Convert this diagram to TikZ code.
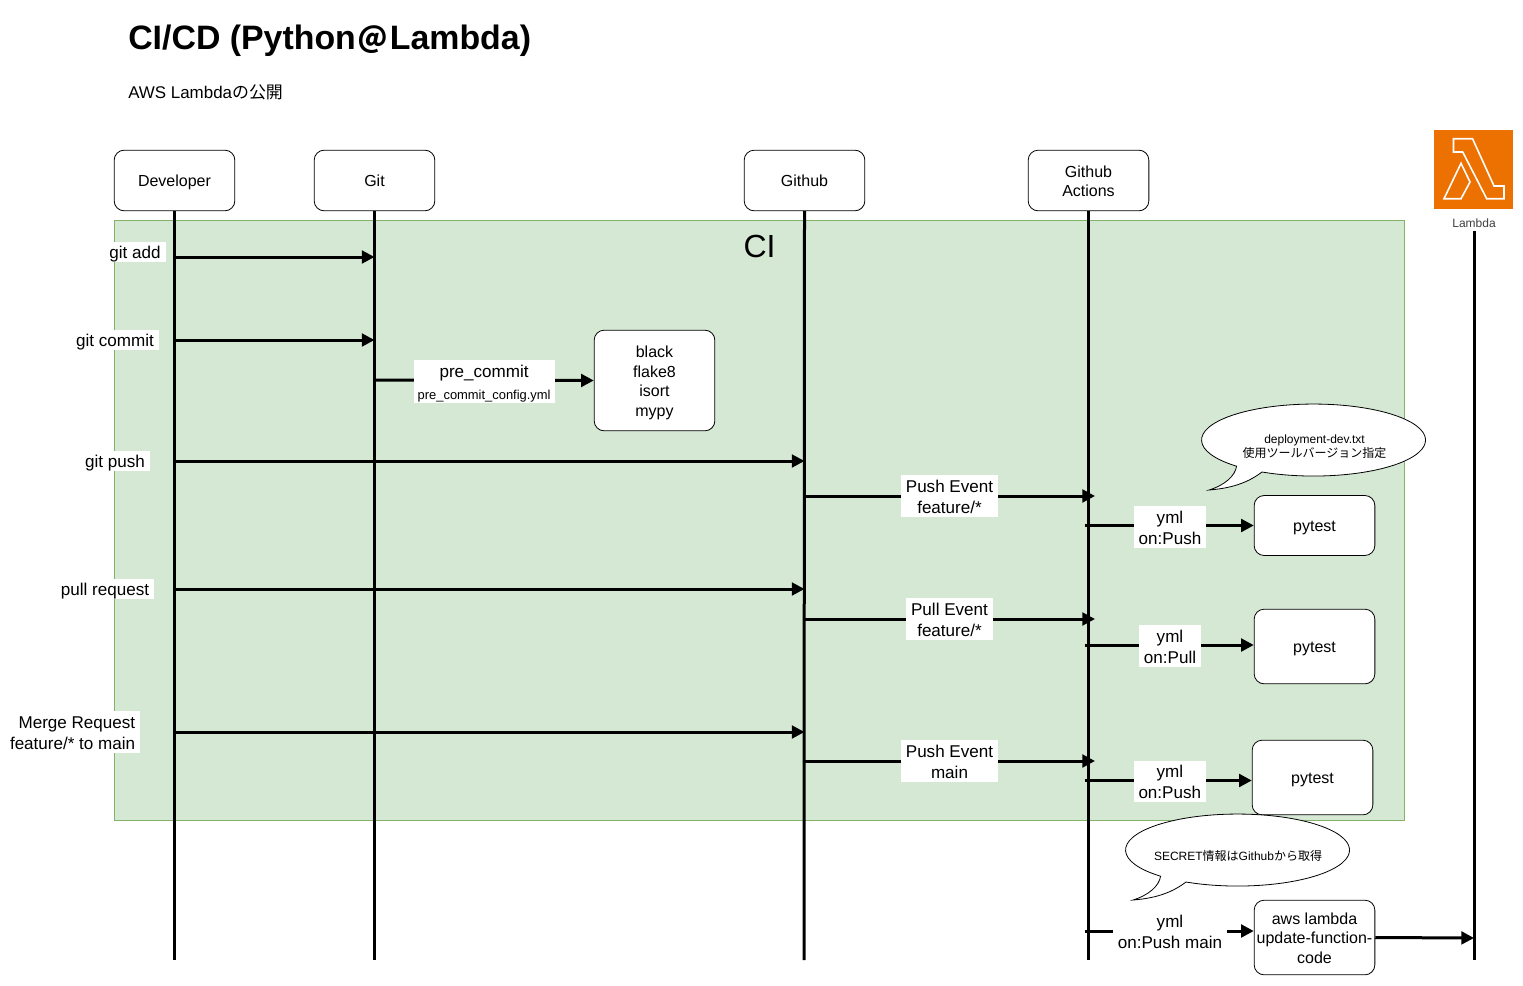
\documentclass[tikz,border=0pt]{standalone}
\usepackage{fontspec}
\setmainfont{Liberation Sans}
\newfontfamily\cjk{Noto Sans CJK JP}
\usetikzlibrary{arrows.meta}
\definecolor{grn}{HTML}{D5E8D4}
\definecolor{grnline}{HTML}{82B366}
\definecolor{lamorange}{HTML}{ED7100}
\newcommand{\topA}{\vrule width0pt height 0.795\baselineskip depth 0pt\relax}
\newcommand{\botA}{\vrule width0pt height 0pt depth 0.205\baselineskip\relax}
\newcommand{\topB}{\vrule width0pt height 0.83\baselineskip depth 0pt\relax}
\newcommand{\botB}{\vrule width0pt height 0pt depth 0.17\baselineskip\relax}
\tikzset{
  single/.style={execute at begin node=\topA,execute at end node=\botA},
  boxm/.style={draw=black,fill=white,rounded corners=7.5pt,line width=0.6pt,minimum width=90.5pt,align=center,inner sep=0pt,font=\fontsize{12}{14.6}\selectfont},
  box/.style={boxm,single},
  life/.style={line width=2.25pt,black},
  msg/.style={line width=2.25pt,-{Triangle[length=9.5pt,width=9.5pt]}},
  lblm/.style={fill=white,align=center,inner xsep=3.75pt,inner ysep=0pt,font=\fontsize{12.8}{15.6}\selectfont},
  lblx/.style={lblm,single},
  btext/.style={align=center,inner sep=0pt,font=\fontsize{9}{11}\selectfont},
  bubble/.style={draw=black,fill=white,line width=0.6pt},
}
\begin{document}
\begin{tikzpicture}[x=0.75pt,y=-0.75pt]
\useasboundingbox (0,0) rectangle (1523,985);
\fill[white] (0,0) rectangle (1523,985);
% title
\node[anchor=base west,inner sep=0pt,font=\fontsize{25.4}{30}\selectfont\bfseries] (title) at (128,49) {CI/CD (Python\kern2pt\raisebox{-1pt}{\cjk\bfseries\fontsize{21.5}{24}\selectfont ＠}\kern2pt Lambda)};
\node[anchor=base west,inner sep=0pt,font=\fontsize{12.7}{14}\selectfont] (sub) at (128,98) {AWS Lambda{\cjk の公開}};
% CI area
\node[draw=grnline,fill=grn,line width=0.75pt,minimum width=967.5pt,minimum height=450pt,inner sep=0pt,anchor=north west] (ci) at (114,220) {};
\node[inner sep=0pt,font=\fontsize{24}{28}\selectfont] (citext) at (759.5,246) {CI};
% header boxes
\node[box,minimum height=45.5pt] (dev) at (174.5,180.5) {Developer};
\node[box,minimum height=45.5pt] (git) at (374.5,180.5) {Git};
\node[box,minimum height=45.5pt] (gh) at (804.5,180.5) {Github};
\node[boxm,minimum height=45.5pt,font=\fontsize{12}{14.4}\selectfont] (act) at (1088.5,180.5) {\topB Github\\Actions\botB};
% lambda icon
\node[fill=lamorange,minimum width=59pt,minimum height=59pt,inner sep=0pt] (lam) at (1473.5,169.5) {};
\draw[white,line width=1.2pt,line join=miter]
  (1453.5,138.7) -- (1472.5,138.7) -- (1494,186) -- (1504,186) -- (1504,198.7) -- (1486.7,198.7) -- (1462.7,152) -- (1453.5,152) -- cycle;
\draw[white,line width=1.2pt,line join=miter]
  (1461,163.3) -- (1470,182) -- (1461,198.7) -- (1444,198.7) -- cycle;
\node[inner sep=0pt,text=black!75,font=\fontsize{9}{11}\selectfont] (lamtext) at (1474,223) {Lambda};
% lifeline ends
\coordinate (devend) at (174.5,960);
\coordinate (gitend) at (374.5,960);
\coordinate (ghend) at (804,960);
\coordinate (actend) at (1088.5,960);
\coordinate (lamstart) at (1474,231);
\coordinate (lamend) at (1474,960);
\draw[life] (dev.south) -- (devend);
\draw[life] (git.south) -- (gitend);
\draw[life] (gh.south) -- (ghend);
\draw[life] (act.south) -- (actend);
\draw[life] (lamstart) -- (lamend);
% boxes
\node[boxm,minimum height=75.5pt] (tools) at (654.5,380.5) {\topB black\\flake8\\isort\\mypy\botB};
\node[box,minimum height=45pt] (pt1) at (1314.5,525.5) {pytest};
\node[box,minimum height=56pt] (pt2) at (1314.5,646.5) {pytest};
\node[box,minimum height=56pt] (pt3) at (1312.5,777.5) {pytest};
\node[boxm,minimum height=56pt] (aws) at (1314.5,937.5) {\topB aws lambda\\update-function-\\code\botB};
% bubbles
\draw[bubble] (1236.6,466.2) arc[start angle=226.6,end angle=-117.4,x radius=84pt,y radius=27pt]
  .. controls (1250,481) and (1235,488) .. (1209,490)
  .. controls (1225,485) and (1235,476) .. cycle;
\node[btext] (b1) at (1314.5,446.5) {deployment-dev.txt\\{\cjk 使用ツールバージョン指定}};
\draw[bubble] (1160.6,876.2) arc[start angle=226.6,end angle=-117.4,x radius=84pt,y radius=27pt]
  .. controls (1174,891) and (1159,898) .. (1133,900)
  .. controls (1149,895) and (1159,886) .. cycle;
\node[btext] (b2) at (1238,855.5) {SECRET{\cjk 情報は}Github{\cjk から取得}};
% left labels
\node[lblx] (l1) at (135,252) {git add};
\node[lblx] (l2) at (115,340) {git commit};
\node[lblx] (l3) at (115,461) {git push};
\node[lblx] (l4) at (105,589) {pull request};
\node[lblm,align=right,anchor=east] (l5) at (140.5,732) {\topB Merge Request\\feature/* to main\botB};
% anchors
\coordinate (d1) at (174.5,257); \coordinate (g1) at (374.5,257);
\coordinate (d2) at (174.5,340); \coordinate (g2) at (374.5,340);
\coordinate (g3) at (374.5,380);
\coordinate (d3) at (174.5,461); \coordinate (h3) at (804.5,461);
\coordinate (d4) at (174.5,589); \coordinate (h4) at (804.5,589);
\coordinate (d5) at (174.5,732); \coordinate (h5) at (804.5,732);
\coordinate (h6) at (804,496); \coordinate (a6) at (1095,496);
\coordinate (h7) at (804,619); \coordinate (a7) at (1095,619);
\coordinate (h8) at (804,761); \coordinate (a8) at (1095,761);
\coordinate (s1) at (1084.5,525.5);
\coordinate (s2) at (1084.5,645);
\coordinate (s3) at (1084.5,780.5);
\coordinate (s4) at (1084.5,931);
\coordinate (e5) at (1474,938);
% messages
\draw[msg] (d1) -- (g1);
\draw[msg] (d2) -- (g2);
\draw[msg] (g3) -- node[lblm,inner xsep=3pt,yshift=-1pt,pos=0.5] (pc) {\topB pre\_commit\\[1pt]{\fontsize{9.7}{12}\selectfont pre\_commit\_config.yml}\botB} (tools.west);
\draw[msg] (d3) -- (h3);
\draw[msg] (d4) -- (h4);
\draw[msg] (d5) -- (h5);
\draw[msg] (h6) -- node[lblm,pos=0.5] (pe1) {\topB Push Event\\feature/*\botB} (a6);
\draw[msg] (h7) -- node[lblm,pos=0.5] (pe2) {\topB Pull Event\\feature/*\botB} (a7);
\draw[msg] (h8) -- node[lblm,pos=0.5] (pe3) {\topB Push Event\\main\botB} (a8);
\draw[msg] (s1) -- node[lblm,pos=0.505,yshift=-1pt] (y1) {\topB yml\\on:Push\botB} (pt1.west);
\draw[msg] (s2) -- node[lblm,pos=0.505,yshift=-0.75pt] (y2) {\topB yml\\on:Pull\botB} (pt2.west |- s2);
\draw[msg] (s3) -- node[lblm,pos=0.51,yshift=-0.75pt] (y3) {\topB yml\\on:Push\botB} (pt3.west |- s3);
\draw[msg] (s4) -- node[lblm,pos=0.505] (y4) {\topB yml\\on:Push main\botB} (aws.west |- s4);
\draw[msg] (aws.east) -- (e5);
\end{tikzpicture}
\end{document}
